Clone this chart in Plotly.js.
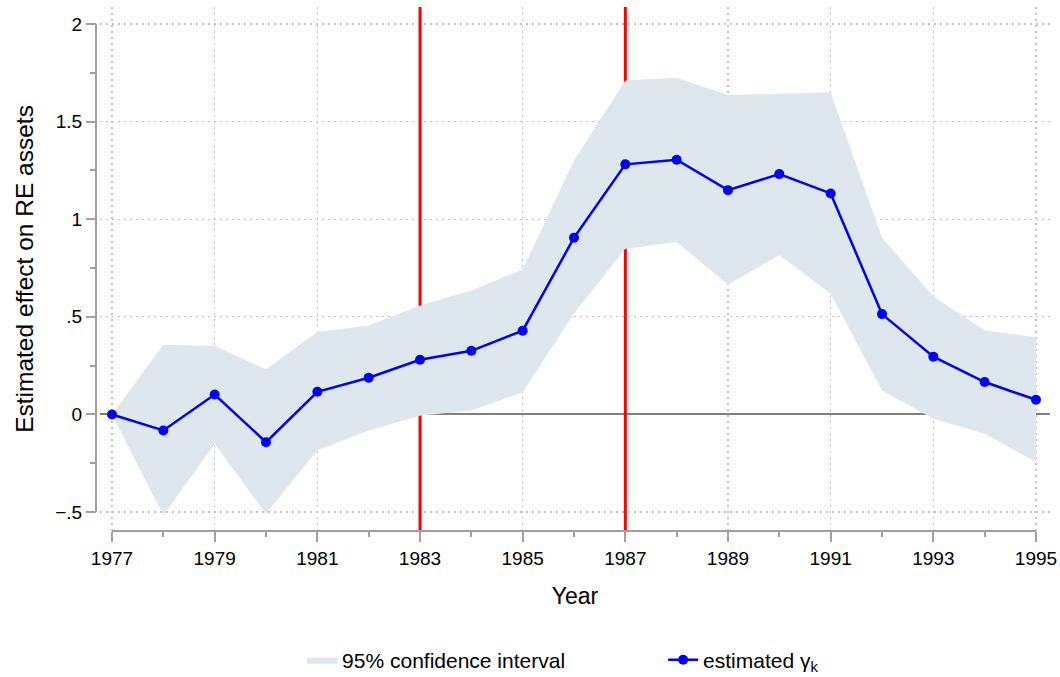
<!DOCTYPE html>
<html>
<head>
<meta charset="utf-8">
<script src="https://cdn.plot.ly/plotly-3.0.1.min.js"></script>
<style>html,body{margin:0;padding:0;background:#fff;}#chart{width:1060px;height:677px;}</style>
</head>
<body>
<div id="chart"></div>
<script>
const years = [1977,1978,1979,1980,1981,1982,1983,1984,1985,1986,1987,1988,1989,1990,1991,1992,1993,1994,1995];
const estimate = [0,-0.082,0.102,-0.142,0.116,0.188,0.280,0.326,0.429,0.905,1.281,1.305,1.149,1.231,1.132,0.514,0.296,0.166,0.075];
const ciUpper = [0,0.357,0.350,0.231,0.422,0.456,0.558,0.635,0.743,1.301,1.711,1.725,1.636,1.643,1.650,0.905,0.606,0.430,0.396];
const ciLower = [0,-0.517,-0.150,-0.509,-0.184,-0.082,-0.007,0.020,0.114,0.517,0.849,0.883,0.666,0.815,0.618,0.123,-0.022,-0.099,-0.244];
const eventYears = [1983,1987];
const yTickVals = [-0.5,0,0.5,1,1.5,2];
const yTickText = ['\u2212.5','0','.5','1','1.5','2'];
const xTickVals = [1977,1979,1981,1983,1985,1987,1989,1991,1993,1995];
const yRange = [-0.597, 2.087];
const xRange = [1976.766, 1995.273];

const FONT = 'Liberation Sans, Arial, Helvetica, sans-serif';
const fillColor = '#dde7ed';

const traces = [];
eventYears.forEach(yr => traces.push({x:[yr, yr], y:yRange, type:'scatter', mode:'lines', line:{color:'#ff0000', width:3}, showlegend:false, hoverinfo:'skip', cliponaxis:false}));
traces.push(
  {x: years, y: ciLower, type:'scatter', mode:'lines', line:{width:0, color:fillColor}, showlegend:false, hoverinfo:'skip'},
  {x: years, y: ciUpper, type:'scatter', mode:'lines', fill:'tonexty', fillcolor:fillColor, line:{width:0, color:fillColor}, name:'95% confidence interval'},
  {x: years, y: estimate, type:'scatter', mode:'lines+markers', line:{color:'#0000ff', width:2.5}, marker:{color:'#0000ff', size:10}, name:'estimated \u03b3<sub>k</sub>'}
);

const shapes = [
  {type:'line', layer:'above', xref:'paper', yref:'y', x0:0, x1:0, y0:yTickVals[0], y1:yTickVals[yTickVals.length-1], line:{color:'#a0a0a0', width:2}},
  {type:'line', layer:'above', xref:'x', yref:'paper', x0:years[0], x1:years[years.length-1], y0:0, y1:0, line:{color:'#a0a0a0', width:2}}
];

const layout = {
  width:1060, height:677,
  margin:{l:96, r:10, t:7, b:146},
  paper_bgcolor:'#ffffff', plot_bgcolor:'#ffffff',
  font:{family:FONT, color:'#000', size:19},
  showlegend:true,
  legend:{orientation:'h', traceorder:'normal', x:0.285, xanchor:'left', xref:'container', y:0.025, yref:'container', yanchor:'middle', font:{size:21, family:FONT}, entrywidth:316, entrywidthmode:'pixels'},
  xaxis:{
    domain:[4/954, 1],
    range:xRange,
    tickmode:'array', tickvals:xTickVals, ticktext:xTickVals.map(String),
    ticks:'outside', ticklen:10, tickwidth:2, tickcolor:'#a0a0a0',
    showline:false, zeroline:false,
    showgrid:true, gridcolor:'#c4c4c4', griddash:'1.5px,4.5px', gridwidth:1.3,
    minor:{dtick:1, tick0:1977, ticks:'outside', ticklen:5, tickwidth:2, tickcolor:'#a0a0a0', showgrid:false},
    tickfont:{size:19, family:FONT},
    title:{text:'Year', font:{size:23, family:FONT}, standoff:20}
  },
  yaxis:{
    anchor:'free', position:0,
    range:yRange,
    tickmode:'array', tickvals:yTickVals, ticktext:yTickText,
    ticks:'outside', ticklen:10, tickwidth:2, tickcolor:'#a0a0a0',
    showline:false,
    zeroline:true, zerolinecolor:'#808080', zerolinewidth:2,
    showgrid:true, gridcolor:'#c4c4c4', griddash:'1.5px,4.5px', gridwidth:1.3,
    minor:{dtick:0.25, tick0:0, ticks:'outside', ticklen:6, tickwidth:2, tickcolor:'#a0a0a0', showgrid:false},
    tickfont:{size:19, family:FONT},
    title:{text:'Estimated effect on RE assets', font:{size:24.5, family:FONT}, standoff:13}
  },
  shapes: shapes
};

Plotly.newPlot('chart', traces, layout, {displayModeBar:false, staticPlot:true});
</script>
</body>
</html>
